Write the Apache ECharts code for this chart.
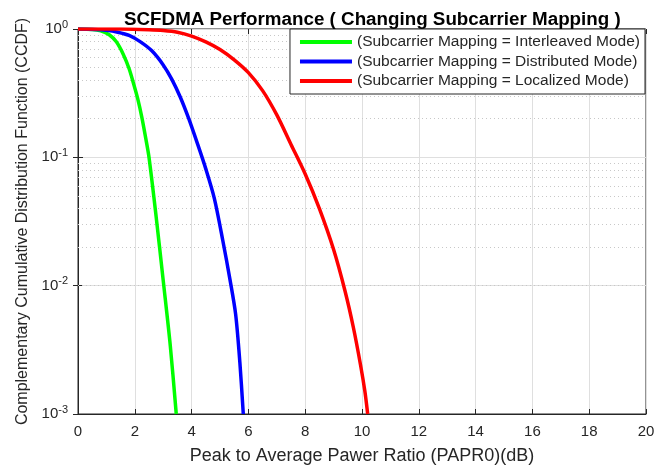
<!DOCTYPE html>
<html>
<head>
<meta charset="utf-8">
<script src="https://cdn.jsdelivr.net/npm/echarts@6/dist/echarts.min.js"></script>
<style>
  html, body { margin: 0; padding: 0; background: #fff; }
  #ccdf { width: 669px; height: 470px; }
</style>
</head>
<body>
<div id="ccdf"></div>
<script>
// PAPR (dB) / CCDF
const interleavedX = [0, 0.5, 0.8, 1.1, 1.35, 1.6, 1.8, 1.95, 2.1, 2.25, 2.4, 2.5, 2.75, 3.0, 3.25, 3.46]
const interleavedY = [1, 0.991, 0.966, 0.902, 0.794, 0.631, 0.49, 0.38, 0.288, 0.204, 0.135, 0.1, 0.0347, 0.011, 0.0034, 0.001]

const distributedX = [0, 0.6, 1.0, 1.4, 1.8, 2.2, 2.6, 3.0, 3.3, 3.6, 3.9, 4.2, 4.5, 4.8, 5.1, 5.35, 5.55, 5.7, 5.82]
const distributedY = [1, 0.993, 0.977, 0.944, 0.891, 0.794, 0.676, 0.525, 0.407, 0.295, 0.2, 0.129, 0.0813, 0.0479, 0.0224, 0.0112, 0.006, 0.00251, 0.001]

const localizedX = [0, 1.5, 2.5, 3.0, 3.5, 4.0, 4.5, 5.0, 5.5, 6.0, 6.5, 7.0, 7.5, 8.0, 8.5, 9.0, 9.4, 9.7, 9.95, 10.1, 10.2]
const localizedY = [1, 0.998, 0.986, 0.973, 0.944, 0.881, 0.794, 0.692, 0.575, 0.457, 0.331, 0.214, 0.126, 0.0741, 0.0398, 0.0191, 0.00912, 0.00468, 0.0024, 0.00151, 0.001]

const seriesNames = [
  '(Subcarrier Mapping = Interleaved Mode)',
  '(Subcarrier Mapping = Distributed Mode)',
  '(Subcarrier Mapping = Localized Mode)'
]
const seriesColors = ['#00ff00', '#0000ff', '#ff0000']

const yDecades = [0.001, 0.01, 0.1, 1]

const font = 'Liberation Sans, Arial, Helvetica, sans-serif'
const axisColor = '#262626'

// dotted minor grid at 2..9 x each decade
const minorGrid = []
for (let d = 0; d < yDecades.length - 1; d++) {
  for (let k = 2; k <= 9; k++) {
    minorGrid.push({ yAxis: +(yDecades[d] * k).toPrecision(3) })
  }
}

function pairs(xs, ys) {
  return xs.map((x, i) => [x, ys[i]])
}

const chart = echarts.init(document.getElementById('ccdf'))
const curves = [
  pairs(interleavedX, interleavedY),
  pairs(distributedX, distributedY),
  pairs(localizedX, localizedY)
]

const series = curves.map((d, i) => ({
  name: seriesNames[i],
  type: 'line',
  data: d,
  showSymbol: false,
  smooth: 0.3,
  lineStyle: { color: seriesColors[i], width: 3.5 },
  itemStyle: { color: seriesColors[i] },
  z: 5
}))
// minor grid lines carried by the first series
series[0].markLine = {
  silent: true,
  symbol: 'none',
  label: { show: false },
  lineStyle: { color: '#c8c8c8', type: [1, 3], width: 1 },
  data: minorGrid,
  z: 1
}

const option = {
  backgroundColor: '#fff',
  animation: false,
  title: {
    text: 'SCFDMA Performance ( Changing Subcarrier Mapping )',
    left: 119,
    top: 5,
    textStyle: { fontFamily: font, fontSize: 18.8, fontWeight: 'bold', color: '#000' }
  },
  legend: {
    orient: 'vertical',
    right: 24,
    top: 29,
    padding: [5, 5, 5, 10],
    itemGap: 3.5,
    itemWidth: 52,
    itemHeight: 4,
    icon: 'rect',
    backgroundColor: '#fff',
    borderColor: axisColor,
    borderWidth: 1,
    textStyle: { fontFamily: font, fontSize: 15.5, color: axisColor },
    data: seriesNames
  },
  grid: {
    left: 78,
    right: 23,
    top: 29,
    bottom: 51,
    show: true,
    borderColor: axisColor,
    borderWidth: 1
  },
  xAxis: [{
    type: 'value',
    min: 0,
    max: 20,
    interval: 2,
    name: 'Peak to Average Pawer Ratio (PAPR0)(dB)',
    nameLocation: 'middle',
    nameGap: 33,
    nameTextStyle: { fontFamily: font, fontSize: 18, color: axisColor },
    axisLine: { lineStyle: { color: axisColor } },
    axisTick: { inside: true, length: 5, lineStyle: { color: axisColor } },
    axisLabel: { fontFamily: font, fontSize: 15, color: axisColor, margin: 10 },
    splitLine: { show: true, lineStyle: { color: '#dfdfdf', width: 1 } }
  }, {
    type: 'value',
    position: 'top',
    min: 0,
    max: 20,
    interval: 2,
    axisLine: { show: false },
    axisTick: { inside: true, length: 5, lineStyle: { color: axisColor } },
    axisLabel: { show: false },
    splitLine: { show: false }
  }],
  yAxis: [{
    type: 'log',
    logBase: 10,
    min: 0.001,
    max: 1,
    name: 'Complementary Cumulative Distribution Function (CCDF)',
    nameLocation: 'middle',
    nameGap: 47,
    nameTextStyle: { fontFamily: font, fontSize: 16, color: axisColor },
    axisLine: { lineStyle: { color: axisColor } },
    axisTick: { inside: true, length: 5, lineStyle: { color: axisColor } },
    axisLabel: {
      margin: 10,
      formatter: v => '{b|10}{s|' + Math.round(Math.log10(v)) + '}',
      rich: {
        b: { fontFamily: font, fontSize: 15, color: axisColor },
        s: { fontFamily: font, fontSize: 11, color: axisColor, verticalAlign: 'top', padding: [0, 0, 9, 0] }
      }
    },
    splitLine: { show: true, lineStyle: { color: '#dfdfdf', width: 1 } }
  }, {
    type: 'log',
    logBase: 10,
    min: 0.001,
    max: 1,
    position: 'right',
    axisLine: { show: false },
    axisTick: { inside: true, length: 5, lineStyle: { color: axisColor } },
    axisLabel: { show: false },
    splitLine: { show: false }
  }],
  series: series
}

chart.setOption(option)
</script>
</body>
</html>
